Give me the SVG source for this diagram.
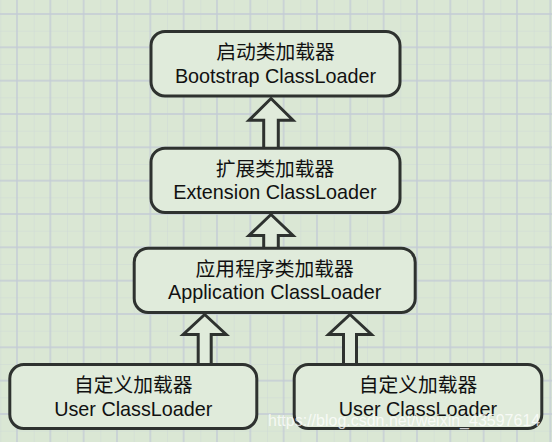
<svg xmlns="http://www.w3.org/2000/svg" width="552" height="442" viewBox="0 0 552 442">
  <style>
    .box { fill: #e0ebdb; stroke: #2e322f; stroke-width: 3; }
    .arrow { fill: #e0ebdb; stroke: #2e322f; stroke-width: 3; stroke-linejoin: miter; }
    .t { font-family: "Liberation Sans", "Noto Sans CJK SC", sans-serif; font-size: 19.8px; fill: #111; text-anchor: middle; }
    .wm { font-family: "Liberation Sans", Arial, sans-serif; font-size: 16px; fill: #ffffff; fill-opacity: 0.75; }
  </style>
  <defs>
    <pattern id="grid" patternUnits="userSpaceOnUse" x="0.33" y="-2.67" width="33.333" height="33.333">
      <rect width="33.333" height="33.333" fill="#dae7d4"/>
      <line x1="0" y1="0" x2="0" y2="33.333" stroke="#cfd9d6" stroke-width="1"/>
      <line x1="0" y1="0" x2="33.333" y2="0" stroke="#cfd9d6" stroke-width="1"/>
      <line x1="16.667" y1="0" x2="16.667" y2="33.333" stroke="#c4ccd6" stroke-width="1.4"/>
      <line x1="0" y1="16.667" x2="33.333" y2="16.667" stroke="#c4ccd6" stroke-width="1.4"/>
    </pattern>
  </defs>
  <rect width="552" height="442" fill="url(#grid)"/>

  <g id="connectors">
    <path class="arrow" d="M271,98.5 L293,120.2 L278.3,120.2 L278.3,148.5 L263.7,148.5 L263.7,120.2 L249,120.2 Z"/>
    <path class="arrow" d="M271,214.5 L293,235.5 L278.3,235.5 L278.3,248.5 L263.7,248.5 L263.7,235.5 L249,235.5 Z"/>
    <path class="arrow" d="M204.7,314.5 L226.2,334.5 L211.2,334.5 L211.2,364.5 L198.2,364.5 L198.2,334.5 L183.2,334.5 Z"/>
    <path class="arrow" d="M350,314.5 L371.5,334.5 L356.5,334.5 L356.5,364.5 L343.5,364.5 L343.5,334.5 L328.5,334.5 Z"/>
  </g>

  <g id="bootstrap">
    <rect class="box" x="151" y="31.5" width="249" height="64.5" rx="14"/>
    <text class="t" x="275.5" y="59">启动类加载器</text>
    <text class="t" x="275.5" y="82.5">Bootstrap ClassLoader</text>
  </g>
  <g id="extension">
    <rect class="box" x="151" y="148.2" width="249" height="64.3" rx="14"/>
    <text class="t" x="275" y="175.7">扩展类加载器</text>
    <text class="t" x="275" y="199.2">Extension ClassLoader</text>
  </g>
  <g id="application">
    <rect class="box" x="134.2" y="248.2" width="281" height="64.3" rx="14"/>
    <text class="t" x="274.7" y="275.7">应用程序类加载器</text>
    <text class="t" x="274.7" y="299.2">Application ClassLoader</text>
  </g>
  <g id="user1">
    <rect class="box" x="9.8" y="364.5" width="247" height="64" rx="14"/>
    <text class="t" x="133.3" y="392">自定义加载器</text>
    <text class="t" x="133.3" y="415.5">User ClassLoader</text>
  </g>
  <g id="user2">
    <rect class="box" x="294.2" y="364.5" width="247.6" height="64" rx="14"/>
    <text class="t" x="418" y="392">自定义加载器</text>
    <text class="t" x="418" y="415.5">User ClassLoader</text>
  </g>

  <text class="wm" x="268" y="426">https://blog.csdn.net/weixin_43597614</text>
</svg>
